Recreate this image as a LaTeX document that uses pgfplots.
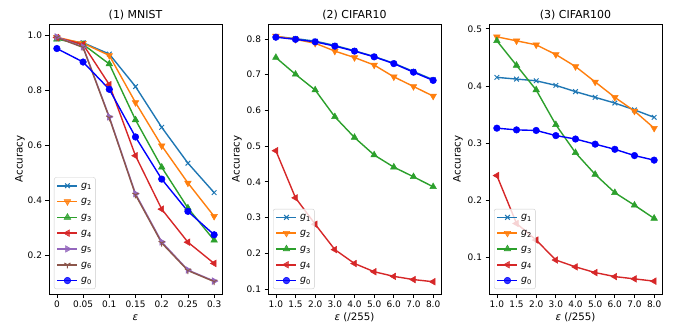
\documentclass[border=0pt]{standalone}
\usepackage{fontspec}
\setmainfont{DejaVu Sans}
\usepackage{pgfplots}
\pgfplotsset{compat=1.18}
\usetikzlibrary{plotmarks}
\definecolor{C0}{HTML}{1F77B4}
\definecolor{C1}{HTML}{FF7F0E}
\definecolor{C2}{HTML}{2CA02C}
\definecolor{C3}{HTML}{D62728}
\definecolor{C4}{HTML}{9467BD}
\definecolor{C5}{HTML}{8C564B}
\definecolor{G0}{HTML}{0000FF}
\pgfplotsset{
  panel/.style={
    width=173bp, height=270bp, scale only axis,
    axis line style={line width=0.7bp},
    tick align=outside, tick pos=left, major tick length=3.5bp,
    every tick/.style={black, line width=0.7bp},
    tick label style={font=\fontsize{9}{10}\selectfont},
    /pgf/number format/assume math mode=true,
    scaled ticks=false,
    label style={font=\fontsize{10.3}{12}\selectfont},
    every axis title shift=0pt,
    title style={font=\fontsize{11}{13}\selectfont, at={(axis description cs:0.5,1)}, anchor=base, yshift=5.5bp},
    xlabel style={at={(axis description cs:0.5,0)}, anchor=base, yshift=-26bp},
    ylabel={Accuracy},
    legend cell align=left,
    legend style={at={(0.0289,0.0185)}, anchor=south west, draw=black!20, rounded corners=2bp,
      fill=white, fill opacity=0.8, text opacity=1, draw opacity=1,
      font=\fontsize{9.5}{10}\selectfont, inner sep=2.5bp, row sep=4.3bp, column sep=2bp,
      nodes={inner sep=1bp, text height=7bp, text depth=2.5bp}},
    legend image code/.code={\draw[mark repeat=2,mark phase=2,##1,line width=1.5bp] plot coordinates {(0bp,0bp) (10bp,0bp) (20bp,0bp)};},
  },
  every axis plot/.append style={line width=1.4bp},
  s1/.style={color=C0, mark=x, mark size=3.3bp, mark options={solid, line width=1bp}},
  s2/.style={color=C1, mark=triangle*, mark size=3.8bp, mark options={solid, rotate=180, line width=0.5bp}},
  s3/.style={color=C2, mark=triangle*, mark size=3.8bp, mark options={solid, line width=0.5bp}},
  s4/.style={color=C3, mark=triangle*, mark size=3.8bp, mark options={solid, rotate=90, line width=0.5bp}},
  s5/.style={color=C4, mark=triangle*, mark size=3.8bp, mark options={solid, rotate=-90, line width=0.5bp}},
  s6/.style={color=C5, mark=Mercedes star flipped, mark size=3.6bp, mark options={solid, line width=1bp}},
  s0/.style={color=G0, mark=*, mark size=3.3bp, mark options={solid, line width=0.5bp}},
}
\begin{document}
\begin{tikzpicture}
\useasboundingbox (0,0) rectangle (686bp,326bp);
% ---------- (1) MNIST
\begin{axis}[panel, at={(49bp,32bp)}, anchor=south west,
  title={(1) MNIST}, xlabel={\textit{ε}},
  ylabel style={at={(axis description cs:-0.1676,0.5)}, anchor=center},
  xmin=-0.015, xmax=0.315, ymin=0.06, ymax=1.04,
  xtick={0,0.05,0.1,0.15,0.2,0.25,0.3}, xticklabels={0,0.05,0.1,0.15,0.2,0.25,0.3},
  ytick={0.2,0.4,0.6,0.8,1.0}, yticklabels={0.2,0.4,0.6,0.8,1.0}]
\addplot[s1] coordinates {(0,0.986) (0.05,0.972) (0.1,0.931) (0.15,0.813) (0.2,0.665) (0.25,0.535) (0.3,0.428)};
\addlegendentry{\textit{g}\textsubscript{1}}
\addplot[s2] coordinates {(0,0.992) (0.05,0.970) (0.1,0.926) (0.15,0.755) (0.2,0.598) (0.25,0.463) (0.3,0.342)};
\addlegendentry{\textit{g}\textsubscript{2}}
\addplot[s3] coordinates {(0,0.985) (0.05,0.966) (0.1,0.895) (0.15,0.692) (0.2,0.520) (0.25,0.372) (0.3,0.255)};
\addlegendentry{\textit{g}\textsubscript{3}}
\addplot[s4] coordinates {(0,0.991) (0.05,0.966) (0.1,0.820) (0.15,0.562) (0.2,0.368) (0.25,0.248) (0.3,0.171)};
\addlegendentry{\textit{g}\textsubscript{4}}
\addplot[s5] coordinates {(0,0.993) (0.05,0.957) (0.1,0.703) (0.15,0.424) (0.2,0.249) (0.25,0.147) (0.3,0.107)};
\addlegendentry{\textit{g}\textsubscript{5}}
\addplot[s6] coordinates {(0,0.991) (0.05,0.955) (0.1,0.700) (0.15,0.420) (0.2,0.245) (0.25,0.145) (0.3,0.105)};
\addlegendentry{\textit{g}\textsubscript{6}}
\addplot[s0] coordinates {(0,0.951) (0.05,0.902) (0.1,0.803) (0.15,0.630) (0.2,0.477) (0.25,0.360) (0.3,0.275)};
\addlegendentry{\textit{g}\textsubscript{0}}
\end{axis}
% ---------- (2) CIFAR10
\begin{axis}[panel, at={(268bp,32bp)}, anchor=south west,
  title={(2) CIFAR10}, xlabel={\textit{ε} (/255)},
  ylabel style={at={(axis description cs:-0.179,0.5)}, anchor=center},
  xmin=-0.4, xmax=8.4, ymin=0.0856, ymax=0.842,
  xtick={0,...,8}, xticklabels={1.0,1.5,2.0,3.0,4.0,5.0,6.0,7.0,8.0},
  ytick={0.1,0.2,0.3,0.4,0.5,0.6,0.7,0.8}, yticklabels={0.1,0.2,0.3,0.4,0.5,0.6,0.7,0.8}]
\addplot[s1] coordinates {(0,0.807) (1,0.801) (2,0.794) (3,0.782) (4,0.767) (5,0.751) (6,0.732) (7,0.709) (8,0.686)};
\addlegendentry{\textit{g}\textsubscript{1}}
\addplot[s2] coordinates {(0,0.808) (1,0.799) (2,0.788) (3,0.766) (4,0.748) (5,0.727) (6,0.694) (7,0.667) (8,0.640)};
\addlegendentry{\textit{g}\textsubscript{2}}
\addplot[s3] coordinates {(0,0.748) (1,0.701) (2,0.657) (3,0.582) (4,0.524) (5,0.475) (6,0.441) (7,0.414) (8,0.386)};
\addlegendentry{\textit{g}\textsubscript{3}}
\addplot[s4] coordinates {(0,0.487) (1,0.355) (2,0.281) (3,0.210) (4,0.171) (5,0.148) (6,0.135) (7,0.126) (8,0.120)};
\addlegendentry{\textit{g}\textsubscript{4}}
\addplot[s0] coordinates {(0,0.805) (1,0.799) (2,0.792) (3,0.780) (4,0.766) (5,0.750) (6,0.731) (7,0.707) (8,0.684)};
\addlegendentry{\textit{g}\textsubscript{0}}
\end{axis}
% ---------- (3) CIFAR100
\begin{axis}[panel, at={(489bp,32bp)}, anchor=south west,
  title={(3) CIFAR100}, xlabel={\textit{ε} (/255)},
  ylabel style={at={(axis description cs:-0.179,0.5)}, anchor=center},
  xmin=-0.4, xmax=8.4, ymin=0.0355, ymax=0.5085,
  xtick={0,...,8}, xticklabels={1.0,1.5,2.0,3.0,4.0,5.0,6.0,7.0,8.0},
  ytick={0.1,0.2,0.3,0.4,0.5}, yticklabels={0.1,0.2,0.3,0.4,0.5}]
\addplot[s1] coordinates {(0,0.415) (1,0.412) (2,0.409) (3,0.401) (4,0.390) (5,0.380) (6,0.370) (7,0.358) (8,0.345)};
\addlegendentry{\textit{g}\textsubscript{1}}
\addplot[s2] coordinates {(0,0.486) (1,0.479) (2,0.472) (3,0.455) (4,0.434) (5,0.407) (6,0.380) (7,0.356) (8,0.326)};
\addlegendentry{\textit{g}\textsubscript{2}}
\addplot[s3] coordinates {(0,0.479) (1,0.436) (2,0.393) (3,0.332) (4,0.283) (5,0.245) (6,0.213) (7,0.191) (8,0.168)};
\addlegendentry{\textit{g}\textsubscript{3}}
\addplot[s4] coordinates {(0,0.243) (1,0.159) (2,0.130) (3,0.095) (4,0.083) (5,0.073) (6,0.066) (7,0.062) (8,0.058)};
\addlegendentry{\textit{g}\textsubscript{4}}
\addplot[s0] coordinates {(0,0.326) (1,0.323) (2,0.322) (3,0.313) (4,0.307) (5,0.298) (6,0.289) (7,0.278) (8,0.270)};
\addlegendentry{\textit{g}\textsubscript{0}}
\end{axis}
\end{tikzpicture}
\end{document}
